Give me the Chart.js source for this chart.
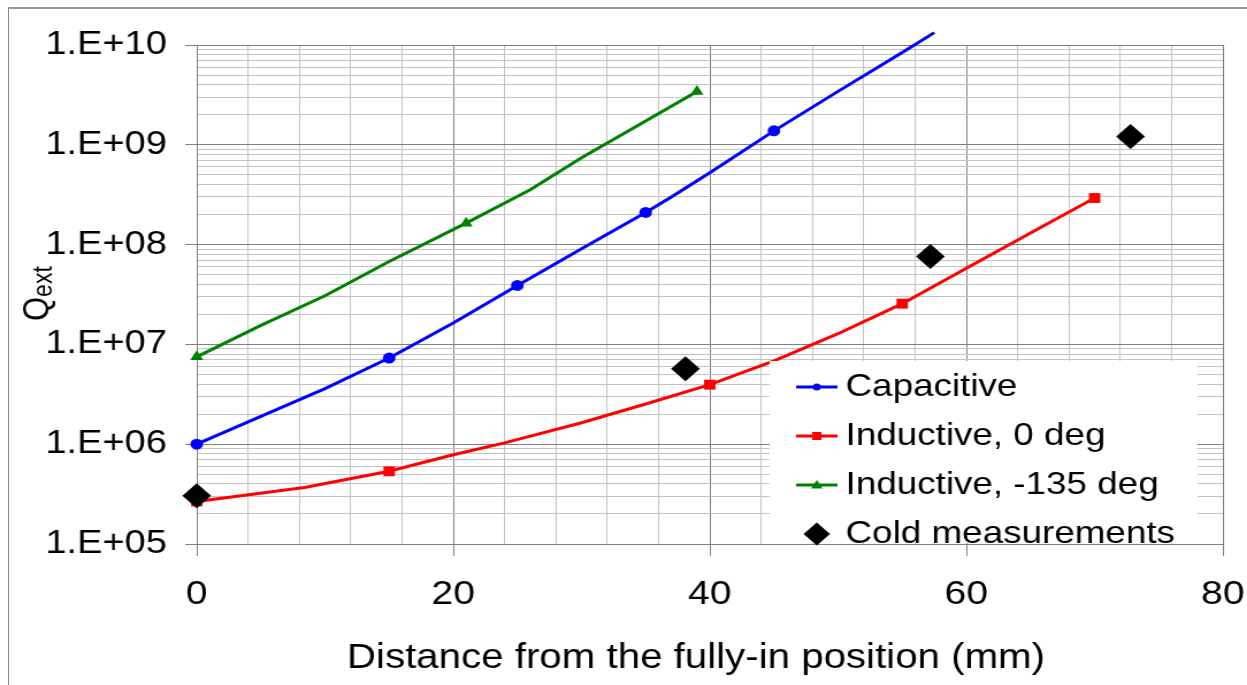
<!DOCTYPE html>
<html>
<head>
<meta charset="utf-8">
<script src="https://cdn.jsdelivr.net/npm/chart.js@4.4.0/dist/chart.umd.min.js"></script>
<style>
  html, body { margin: 0; padding: 0; background: #fff; overflow: hidden; }
  #frame { position: absolute; left: 8px; top: 7px; width: 1400px; height: 900px;
           border-left: 1px solid #888; border-top: 2px solid #9a9a9a; }
  #wrap { position: absolute; left: 0; top: 0; width: 1084px; height: 685px;
          transform: scaleX(1.1504); transform-origin: 0 0; }
</style>
</head>
<body>
<div id="frame"></div>
<div id="wrap"><canvas id="qext" width="1084" height="685"></canvas></div>
<script>
'use strict';

// distance from the fully-in position (mm) and Qext for each antenna
const capX = [0, 5, 10, 15, 20, 25, 30, 35, 37, 40, 45, 50, 55, 57.5];
const capQ = [1.0e6, 1.9e6, 3.6e6, 7.3e6, 1.64e7, 3.9e7, 9.1e7, 2.1e8, 3.0e8, 5.25e8, 1.38e9, 3.43e9, 8.4e9, 1.33e10];
const capMarks = [0, 15, 25, 35, 45];

const ind0X = [0, 8.4, 15, 20, 24, 30, 35, 40, 45, 50, 55, 60, 65, 70];
const ind0Q = [2.67e5, 3.69e5, 5.35e5, 7.85e5, 1.03e6, 1.64e6, 2.53e6, 3.95e6, 6.84e6, 1.28e7, 2.56e7, 5.8e7, 1.31e8, 2.93e8];
const ind0Marks = [0, 15, 40, 55, 70];

const ind135X = [0, 5, 10, 15, 21, 26, 30, 35, 39];
const ind135Q = [7.5e6, 1.55e7, 3.07e7, 6.76e7, 1.64e8, 3.55e8, 7.4e8, 1.73e9, 3.43e9];
const ind135Marks = [0, 21, 39];

const coldX = [0, 38.1, 57.2, 72.8];
const coldQ = [3.05e5, 5.7e6, 7.6e7, 1.21e9];

const decades = [1e5, 1e6, 1e7, 1e8, 1e9, 1e10];
const xLabels = [0, 20, 40, 60, 80];
const xTitle = 'Distance from the fully-in position (mm)';

const FONT = '"Liberation Sans", Arial, sans-serif';
const MAJOR = '#808080', MINOR = '#c4c4c4';

function pts(xs, ys) {
    return xs.map((x, i) => ({x: x, y: ys[i]}));
}

// marker only on the listed x positions, plain line elsewhere
function markAt(marks, r) {
    return c => (c.raw && marks.includes(c.raw.x)) ? r : 0;
}

function isDecade(v) {
    let l = Math.log10(v);
    return Math.abs(l - Math.round(l)) < 1e-9;
}

// 1..9 x 10^n lines between the decades
function logTicks() {
    let t = [];
    for (let i = 0; i < decades.length - 1; i++)
        for (let k = 1; k < 10; k++)
            t.push({value: decades[i] * k});
    t.push({value: decades[decades.length - 1]});
    return t;
}

// legend box inside the plot, bottom right
const boxLegend = {
    id: 'boxLegend',
    afterDatasetsDraw(chart) {
        let ctx = chart.ctx,
            sets = chart.data.datasets,
            sizes = [3.5, 4, 5, 11.5],
            rows = [387, 436, 485, 534];
        ctx.save();
        ctx.fillStyle = '#fff';
        ctx.fillRect(669, 361, 372, 182);
        for (let i = 0; i < sets.length; i++) {
            let ds = sets[i], y = rows[i];
            if (ds.showLine !== false) {
                ctx.strokeStyle = ds.borderColor;
                ctx.lineWidth = 3;
                ctx.beginPath();
                ctx.moveTo(692, y);
                ctx.lineTo(728, y);
                ctx.stroke();
            }
            ctx.fillStyle = ds.backgroundColor;
            marker(ctx, ds.pointStyle, 710, y, sizes[i]);
            ctx.fillStyle = '#000';
            ctx.font = '32px ' + FONT;
            ctx.textBaseline = 'middle';
            ctx.textAlign = 'left';
            ctx.fillText(ds.label, 735, y);
        }
        ctx.restore();
    }
};

function marker(ctx, style, x, y, r) {
    ctx.beginPath();
    if (style === 'circle') {
        ctx.arc(x, y, r, 0, Math.PI * 2);
    } else if (style === 'rect') {
        ctx.rect(x - r, y - r, 2 * r, 2 * r);
    } else if (style === 'triangle') {
        ctx.moveTo(x, y - r);
        ctx.lineTo(x + r, y + r * 0.7);
        ctx.lineTo(x - r, y + r * 0.7);
    } else {
        ctx.moveTo(x - r, y);
        ctx.lineTo(x, y - r);
        ctx.lineTo(x + r, y);
        ctx.lineTo(x, y + r);
    }
    ctx.closePath();
    ctx.fill();
}

// axis titles: x title under the labels, rotated y title with subscript
const axisTitles = {
    id: 'axisTitles',
    afterDraw(chart) {
        let ctx = chart.ctx;
        ctx.save();
        ctx.fillStyle = '#000';
        ctx.font = '35px ' + FONT;
        ctx.textAlign = 'center';
        ctx.textBaseline = 'alphabetic';
        ctx.fillText(xTitle, 605, 668);

        ctx.translate(42, 321);
        ctx.rotate(-Math.PI / 2);
        ctx.textAlign = 'left';
        ctx.font = '31px ' + FONT;
        ctx.fillText('Q', 0, 0);
        let w = ctx.measureText('Q').width;
        ctx.font = '23px ' + FONT;
        ctx.fillText('ext', w, 3);
        ctx.restore();
    }
};

new Chart(document.getElementById('qext'), {
    type: 'line',
    data: {
        datasets: [{
            label: 'Capacitive',
            data: pts(capX, capQ),
            borderColor: '#0000ff',
            backgroundColor: '#0000ff',
            pointStyle: 'circle',
            pointRadius: markAt(capMarks, 5.5),
            order: 1
        }, {
            label: 'Inductive, 0 deg',
            data: pts(ind0X, ind0Q),
            borderColor: '#ff0000',
            backgroundColor: '#ff0000',
            pointStyle: 'rect',
            pointRadius: markAt(ind0Marks, 7),
            order: 1
        }, {
            label: 'Inductive, -135 deg',
            data: pts(ind135X, ind135Q),
            borderColor: '#008000',
            backgroundColor: '#008000',
            pointStyle: 'triangle',
            pointRadius: markAt(ind135Marks, 6.5),
            order: 1
        }, {
            label: 'Cold measurements',
            data: pts(coldX, coldQ),
            borderColor: '#000',
            backgroundColor: '#000',
            showLine: false,
            pointStyle: 'rectRot',
            pointRadius: 12.5,
            order: 0
        }]
    },
    options: {
        responsive: false,
        animation: false,
        devicePixelRatio: 1,
        events: [],
        layout: {padding: {top: 45, right: 21, left: 0, bottom: 0}},
        elements: {
            line: {borderWidth: 3, tension: 0},
            point: {borderWidth: 0, hoverRadius: 0}
        },
        datasets: {line: {clip: false}},
        plugins: {legend: {display: false}, tooltip: {enabled: false}},
        scales: {
            x: {
                type: 'linear',
                min: 0,
                max: 80,
                afterFit: s => {
                    s.height = 141;
                    s.paddingLeft = 0;
                    s.paddingRight = 0;
                },
                ticks: {
                    stepSize: 4,
                    maxTicksLimit: 30,
                    autoSkip: false,
                    maxRotation: 0,
                    padding: 18,
                    color: '#000',
                    font: {family: FONT, size: 34},
                    callback: v => xLabels.includes(v) ? String(v) : ''
                },
                grid: {
                    color: c => xLabels.includes(c.tick.value) ? MAJOR : MINOR,
                    tickColor: c => xLabels.includes(c.tick.value) ? MAJOR : 'rgba(0,0,0,0)',
                    tickLength: 12
                },
                border: {color: MAJOR}
            },
            y: {
                type: 'logarithmic',
                min: 1e5,
                max: 1e10,
                afterFit: s => {
                    s.width = 171;
                    s.paddingTop = 0;
                    s.paddingBottom = 0;
                },
                afterBuildTicks: s => { s.ticks = logTicks(); },
                ticks: {
                    autoSkip: false,
                    padding: 16,
                    color: '#000',
                    font: {family: FONT, size: 33},
                    callback: v => isDecade(v) ? '1.E+' + String(Math.round(Math.log10(v))).padStart(2, '0') : ''
                },
                grid: {
                    color: c => isDecade(c.tick.value) ? MAJOR : MINOR,
                    tickColor: c => isDecade(c.tick.value) ? MAJOR : 'rgba(0,0,0,0)',
                    tickLength: 10
                },
                border: {color: MAJOR}
            }
        }
    },
    plugins: [boxLegend, axisTitles]
});
</script>
</body>
</html>
